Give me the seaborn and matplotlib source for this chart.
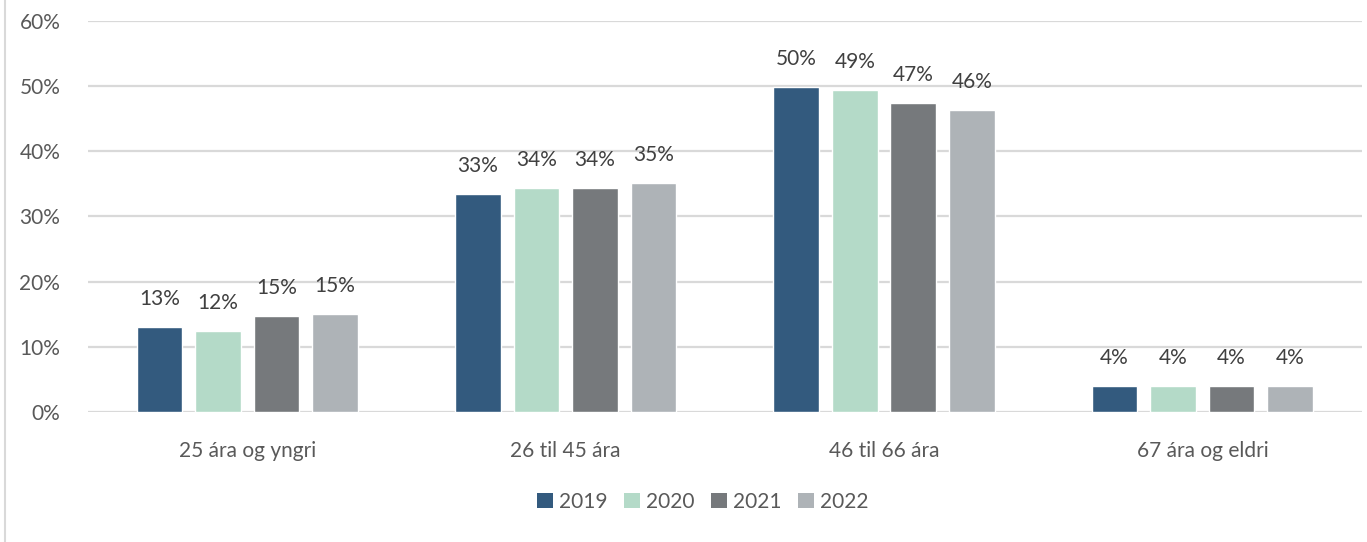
import pandas as pd
import seaborn as sns
import matplotlib.pyplot as plt
from matplotlib.patches import Patch
from matplotlib.lines import Line2D

categories = ["25 ára og yngri", "26 til 45 ára", "46 til 66 ára", "67 ára og eldri"]
years = ["2019", "2020", "2021", "2022"]
v2019 = [13.0, 33.4, 49.9, 4.0]
v2020 = [12.4, 34.3, 49.4, 4.0]
v2021 = [14.7, 34.3, 47.4, 4.0]
v2022 = [15.1, 35.1, 46.3, 4.0]
colors = ["#335A7E", "#B4DAC8", "#76797C", "#AEB3B7"]

rows = []
for year, vals in zip(years, [v2019, v2020, v2021, v2022]):
    for cat, v in zip(categories, vals):
        rows.append({"cat": cat, "year": year, "value": v})
df = pd.DataFrame(rows)

sns.set_style("white")
plt.rcParams['font.family'] = ['Lato', 'DejaVu Sans']
text_color = "#595959"

fig = plt.figure(figsize=(13.67, 5.42), dpi=100)
ax = fig.add_axes([0.0644, 0.2399, 0.9316, 0.7214])
sns.barplot(data=df, x="cat", y="value", hue="year", palette=colors,
            width=0.735, gap=0.22, saturation=1, legend=False, ax=ax)

for container in ax.containers:
    ax.bar_label(container, labels=[f"{round(b.get_height()):.0f}%" for b in container],
                 padding=13, fontsize=15, color="#404040")

ax.set_ylim(0, 60)
ax.set_xlim(-0.5, 3.5)
ax.set_yticks(range(0, 61, 10))
ax.set_yticklabels([f"{t}%" for t in range(0, 61, 10)])
ax.yaxis.grid(True, color="#D9D9D9", linewidth=1.6)
ax.set_axisbelow(True)
for s in ax.spines.values():
    s.set_visible(False)
ax.tick_params(axis="both", length=0, labelsize=15, colors=text_color)
ax.tick_params(axis="x", pad=21)
ax.tick_params(axis="y", pad=20)
ax.set_xlabel("")
ax.set_ylabel("")

handles = [Patch(facecolor=c, edgecolor="none") for c in colors]
fig.legend(handles, years, loc="center", bbox_to_anchor=(0.514, 0.074), ncol=4,
           frameon=False, fontsize=15, handlelength=0.75, handleheight=0.75,
           handletextpad=0.3, columnspacing=0.8, labelcolor=text_color)

fig.add_artist(Line2D([0.004, 0.004], [0, 1], color="#D9D9D9", linewidth=1.5))

fig.savefig("out.png", dpi=100)
